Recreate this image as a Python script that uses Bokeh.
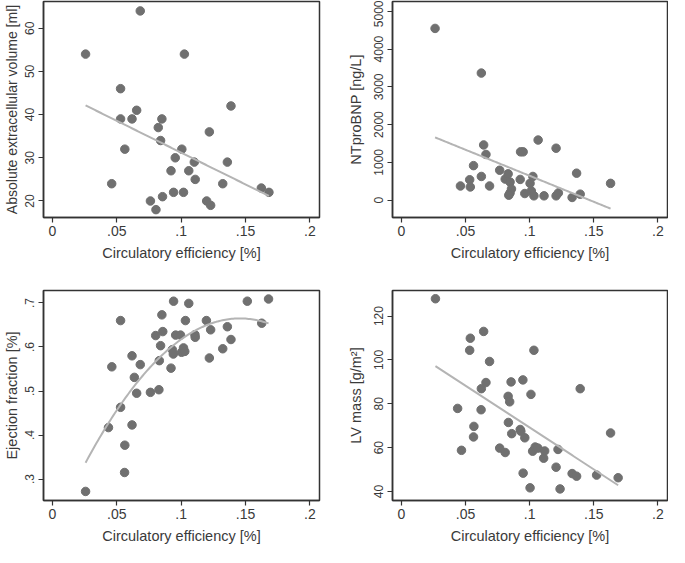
import numpy as np
from bokeh.plotting import figure
from bokeh.layouts import column, row
from bokeh.models import FixedTicker, Range1d
from bokeh.embed import file_html
from bokeh.resources import INLINE

# ---------------- data ----------------
x_ticks = [0, 0.05, 0.1, 0.15, 0.2]
x_tick_labels = ["0", ".05", ".1", ".15", ".2"]
x_title = "Circulatory efficiency [%]"

# Panel 1: absolute extracellular volume
ecv_x = [0.0257, 0.0682, 0.1025, 0.0529, 0.0529, 0.0654, 0.0618, 0.0562, 0.0460,
         0.0822, 0.0850, 0.0840, 0.1387, 0.1219, 0.1005, 0.0954, 0.0921, 0.1059,
         0.1102, 0.1109, 0.1359, 0.1323, 0.1623, 0.1682, 0.0941, 0.1018, 0.0855,
         0.0761, 0.0804, 0.1198, 0.1229]
ecv_y = [54, 64, 54, 46, 39, 41, 39, 32, 24,
         37, 39, 34, 42, 36, 32, 30, 27, 27,
         29, 25, 29, 24, 23, 22, 22, 22, 21,
         20, 18, 20, 19]
ecv_ticks = [20, 30, 40, 50, 60]
ecv_tick_labels = ["20", "30", "40", "50", "60"]

# Panel 2: NTproBNP
bnp_x = [0.0262, 0.0623, 0.0641, 0.0659, 0.0562, 0.0623, 0.0460, 0.0532, 0.0537,
         0.0687, 0.0766, 0.0809, 0.0832, 0.0847, 0.0858, 0.0847, 0.0837, 0.0929,
         0.0949, 0.0926, 0.0962, 0.1066, 0.1003, 0.1025, 0.1013, 0.1033, 0.1112,
         0.1206, 0.1206, 0.1224, 0.1366, 0.1331, 0.1394, 0.1631]
bnp_y = [4548, 3365, 1461, 1209, 913, 626, 374, 539, 348,
         374, 791, 557, 696, 478, 296, 191, 130, 1278,
         1278, 548, 174, 1591, 443, 626, 243, 113, 113,
         1374, 113, 191, 713, 70, 157, 443]
bnp_ticks = [0, 1000, 2000, 3000, 4000, 5000]
bnp_tick_labels = ["0", "1000", "2000", "3000", "4000", "5000"]

# Panel 3: ejection fraction
ef_x = [0.0257, 0.0435, 0.0461, 0.0529, 0.0529, 0.0562, 0.0560, 0.0618, 0.0618,
        0.0636, 0.0654, 0.0682, 0.0761, 0.0827, 0.0830, 0.0802, 0.0840, 0.0850,
        0.0857, 0.0941, 0.0921, 0.0931, 0.0939, 0.0957, 0.0995, 0.1003, 0.1018,
        0.1028, 0.1033, 0.1059, 0.1107, 0.1109, 0.1196, 0.1219, 0.1229, 0.1323,
        0.1359, 0.1387, 0.1514, 0.1626, 0.1679]
ef_y = [0.272, 0.417, 0.555, 0.660, 0.463, 0.377, 0.315, 0.423, 0.580,
        0.531, 0.495, 0.560, 0.497, 0.503, 0.569, 0.626, 0.603, 0.673,
        0.635, 0.704, 0.552, 0.594, 0.584, 0.627, 0.627, 0.588, 0.598,
        0.590, 0.660, 0.699, 0.628, 0.622, 0.660, 0.575, 0.639, 0.596,
        0.646, 0.617, 0.704, 0.654, 0.709]
ef_ticks = [0.3, 0.4, 0.5, 0.6, 0.7]
ef_tick_labels = [".3", ".4", ".5", ".6", ".7"]

# Panel 4: LV mass
lvm_x = [0.0265, 0.0438, 0.0468, 0.0537, 0.0532, 0.0565, 0.0562, 0.0623, 0.0621,
         0.0641, 0.0659, 0.0687, 0.0766, 0.0809, 0.0832, 0.0844, 0.0834, 0.0855,
         0.0860, 0.0926, 0.0931, 0.0947, 0.0949, 0.0962, 0.1003, 0.1010, 0.1033,
         0.1023, 0.1043, 0.1064, 0.1117, 0.1109, 0.1206, 0.1221, 0.1237, 0.1331,
         0.1366, 0.1394, 0.1522, 0.1631, 0.1690]
lvm_y = [127.9, 77.9, 58.8, 109.9, 104.4, 69.7, 64.9, 86.9, 77.3,
         113.0, 89.7, 99.3, 59.8, 57.8, 83.4, 80.9, 71.5, 90.0,
         66.4, 68.3, 67.5, 90.9, 48.4, 64.5, 41.7, 84.3, 104.4,
         58.4, 60.3, 59.8, 58.5, 55.2, 51.1, 59.2, 41.2, 48.2,
         47.0, 86.9, 47.5, 66.7, 46.3]
lvm_ticks = [40, 60, 80, 100, 120]
lvm_tick_labels = ["40", "60", "80", "100", "120"]

# ---------------- style ----------------
FONT = "Liberation Sans"
TEXT = "#3a3a3a"
DARK = "#333333"
POINT = "#707070"
FIT = "#b4b4b4"
X_RANGE = (-0.007, 0.2075)


def panel(x, y, ylabel, yticks, ylabels, yr, deg, width, height, borders,
          ylabel_size="14.5px", ytitle_standoff=3):
    bl, br, bt, bb = borders
    p = figure(width=width, height=height, output_backend="svg",
               toolbar_location=None, x_range=Range1d(*X_RANGE),
               y_range=Range1d(*yr), min_border_left=bl, min_border_right=br,
               min_border_top=bt, min_border_bottom=bb)
    p.grid.visible = False
    p.outline_line_color = DARK
    p.outline_line_width = 1.5
    p.background_fill_color = "white"
    p.border_fill_color = "white"
    for ax in (p.xaxis[0], p.yaxis[0]):
        ax.axis_line_color = DARK
        ax.axis_line_width = 1.5
        ax.major_tick_line_color = DARK
        ax.major_tick_line_width = 1.2
        ax.major_tick_out = 5
        ax.major_tick_in = 0
        ax.minor_tick_line_color = None
        ax.major_label_text_font = FONT
        ax.major_label_text_color = TEXT
        ax.axis_label_text_font = FONT
        ax.axis_label_text_font_size = "14.5px"
        ax.axis_label_text_font_style = "normal"
        ax.axis_label_text_color = TEXT
    p.xaxis.major_label_text_font_size = "14px"
    p.xaxis.major_label_standoff = 3
    p.xaxis.axis_label_standoff = 6
    p.xaxis.ticker = FixedTicker(ticks=x_ticks)
    p.xaxis.major_label_overrides = dict(zip(x_ticks, x_tick_labels))
    p.xaxis.axis_label = x_title

    p.yaxis.major_label_text_font_size = "12px"
    p.yaxis.major_label_standoff = 4
    p.yaxis.axis_label_standoff = ytitle_standoff
    p.yaxis.ticker = FixedTicker(ticks=yticks)
    p.yaxis.major_label_overrides = dict(zip(yticks, ylabels))
    p.yaxis.major_label_orientation = "vertical"
    p.yaxis.axis_label = ylabel
    p.yaxis.axis_label_text_font_size = ylabel_size

    p.scatter(x, y, size=8.5, fill_color=POINT, line_color=POINT)
    coef = np.polyfit(x, y, deg)
    xs = np.linspace(min(x), max(x), 120)
    p.line(xs, np.polyval(coef, xs), line_color=FIT, line_width=2)
    return p


TOP_H, BOT_H = 281, 265
W1, W2 = 330, 338

p1 = panel(ecv_x, ecv_y, "Absolute extracellular volume [ml]", ecv_ticks,
           ecv_tick_labels, (16.18, 66.18), 1, W1, TOP_H, (43, 11, 1, 64),
           ylabel_size="14px")
p2 = panel(bnp_x, bnp_y, "NTproBNP [ng/L]", bnp_ticks, bnp_tick_labels,
           (-461, 5261), 1, W2, TOP_H, (62, 1, 1, 64), ytitle_standoff=8)
p3 = panel(ef_x, ef_y, "Ejection fraction [%]", ef_ticks, ef_tick_labels,
           (0.2514, 0.7283), 2, W1, BOT_H, (43, 11, 9, 39))
p4 = panel(lvm_x, lvm_y, "LV mass [g/m\u00b2]", lvm_ticks, lvm_tick_labels,
           (35.92, 131.66), 1, W2, BOT_H, (62, 1, 9, 39), ytitle_standoff=8)

layout = column(row(p1, p2), row(p3, p4))

with open("out.html", "w") as f:
    f.write(file_html(layout, INLINE))
